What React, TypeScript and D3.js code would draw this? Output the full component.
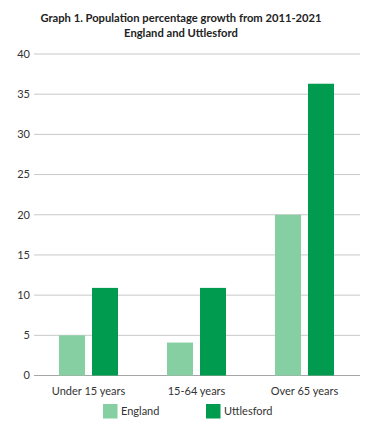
import React from "react";
import * as d3 from "d3";

const categories = ["Under 15 years", "15-64 years", "Over 65 years"];
const seriesNames = ["England", "Uttlesford"];
const england = [5.0, 4.1, 20.0];
const uttlesford = [10.9, 10.9, 36.3];
const yTicks = [0, 5, 10, 15, 20, 25, 30, 35, 40];
const colors = ["#86CFA3", "#009B4E"];

const W = 380;
const H = 444;
const font = "Lato, 'Open Sans', sans-serif";

export default function App() {
  const x = d3.scaleBand<string>().domain(categories).range([34.5, 358.5]);
  const y = d3.scaleLinear().domain([0, 40]).range([375.5, 54]);
  const inner = d3.scaleBand<string>().domain(seriesNames).range([0, 59]).paddingInner(0.212);
  const series = [england, uttlesford];

  return (
    <svg width={W} height={H} style={{ position: "absolute", left: 0, top: 0, background: "#fff" }} fontFamily={font}>
      <text x={181} y={21.5} textAnchor="middle" fontSize={11.2} fontWeight={700} fill="#222">
        Graph 1. Population percentage growth from 2011-2021
      </text>
      <text x={181} y={36.5} textAnchor="middle" fontSize={11.2} fontWeight={700} fill="#222">
        England and Uttlesford
      </text>
      {yTicks.map((t) => (
        <g key={t}>
          <line x1={34} x2={360} y1={y(t)} y2={y(t)} stroke={t === 0 ? "#a6a6a6" : "#c8c8c8"} strokeWidth={1} />
          <text x={30} y={y(t)} dy="0.35em" textAnchor="end" fontSize={11} fill="#333">{t}</text>
        </g>
      ))}
      {categories.map((c, i) => {
        const cx = (x(c) as number) + x.bandwidth() / 2;
        const gx = cx - 29.5;
        return (
          <g key={c}>
            {seriesNames.map((s, j) => (
              <rect
                key={s}
                x={gx + (inner(s) as number)}
                y={y(series[j][i])}
                width={inner.bandwidth()}
                height={y(0) - y(series[j][i])}
                fill={colors[j]}
              />
            ))}
            <text x={cx} y={391} dy="0.35em" textAnchor="middle" fontSize={11} fill="#333">{c}</text>
          </g>
        );
      })}
      {seriesNames.map((s, j) => {
        const lx = [103, 206][j];
        return (
          <g key={s}>
            <rect x={lx} y={404} width={14.5} height={14.5} fill={colors[j]} />
            <text x={lx + 18} y={411.5} dy="0.35em" fontSize={11} fill="#333">{s}</text>
          </g>
        );
      })}
    </svg>
  );
}
